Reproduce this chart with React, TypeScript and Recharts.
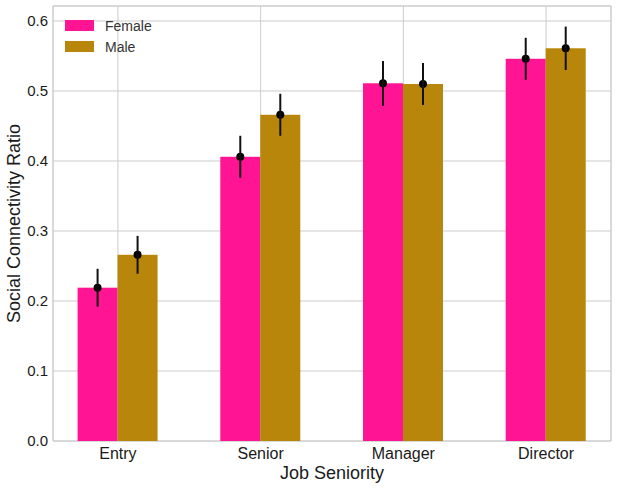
import {
  Bar,
  BarChart,
  CartesianGrid,
  ErrorBar,
  Legend,
  ReferenceArea,
  XAxis,
  YAxis,
} from "recharts";

const categories = ["Entry", "Senior", "Manager", "Director"];
const femaleValues = [0.219, 0.406, 0.511, 0.546];
const femaleErrors = [0.027, 0.03, 0.032, 0.03];
const maleValues = [0.266, 0.466, 0.51, 0.561];
const maleErrors = [0.027, 0.03, 0.03, 0.031];
const yTicks = [0, 0.1, 0.2, 0.3, 0.4, 0.5, 0.6];

const FEMALE = "#ff1493";
const MALE = "#b8860b";
const FONT = "Liberation Sans, Arial, sans-serif";

const data = categories.map((name, i) => ({
  pos: i,
  name,
  female: femaleValues[i],
  femaleErr: femaleErrors[i],
  male: maleValues[i],
  maleErr: maleErrors[i],
}));

function BarWithDot(props: any) {
  const { x, y, width, height, fill } = props;
  return (
    <g>
      <rect x={x} y={y} width={width} height={height} fill={fill} />
      <circle cx={x + width / 2} cy={y} r={4} fill="#000" />
    </g>
  );
}

function LegendBox() {
  const items = [
    { label: "Female", color: FEMALE },
    { label: "Male", color: MALE },
  ];
  return (
    <div
      style={{
        fontFamily: FONT,
        fontSize: 14,
        color: "#333",
        whiteSpace: "nowrap",
        width: 120,
      }}
    >
      {items.map((it) => (
        <div
          key={it.label}
          style={{ display: "flex", alignItems: "center", height: 21 }}
        >
          <span
            style={{
              display: "inline-block",
              flexShrink: 0,
              width: 29,
              height: 11,
              background: it.color,
              marginRight: 11,
            }}
          />
          {it.label}
        </div>
      ))}
    </div>
  );
}

export default function App() {
  return (
    <div style={{ position: "fixed", left: 0, top: 0, background: "#fff" }}>
      <BarChart
        width={618}
        height={488}
        data={data}
        barGap={0}
        margin={{ top: 6, right: 7, left: 0, bottom: 0 }}
      >
        <CartesianGrid stroke="#cccccc" strokeWidth={1} />
        <XAxis
          dataKey="pos"
          type="number"
          domain={[-0.455, 3.455]}
          ticks={[0, 1, 2, 3]}
          tickFormatter={(v: number) => categories[v] ?? ""}
          axisLine={false}
          tickLine={false}
          height={47}
          tick={{ fontSize: 16, fill: "#1a1a1a", fontFamily: FONT }}
          tickMargin={1}
          label={{
            value: "Job Seniority",
            position: "insideBottom",
            offset: 9,
            style: { fontSize: 18, fill: "#1a1a1a", fontFamily: FONT },
          }}
        />
        <YAxis
          type="number"
          domain={[0, 0.6214]}
          ticks={yTicks}
          tickFormatter={(v: number) => v.toFixed(1)}
          axisLine={false}
          tickLine={false}
          width={53}
          tickSize={3}
          tickMargin={2}
          tick={{ fontSize: 15, fill: "#1a1a1a", fontFamily: FONT }}
          label={{
            value: "Social Connectivity Ratio",
            angle: -90,
            position: "insideLeft",
            offset: 14,
            style: {
              fontSize: 18,
              fill: "#1a1a1a",
              fontFamily: FONT,
              textAnchor: "middle",
            },
          }}
        />
        <ReferenceArea
          x1={-0.455}
          x2={3.455}
          y1={0}
          y2={0.6214}
          fill="none"
          stroke="#cccccc"
          strokeWidth={1}
          ifOverflow="visible"
        />
        <Legend
          content={<LegendBox />}
          verticalAlign="top"
          align="left"
          wrapperStyle={{
            top: 15,
            left: 65,
            width: 0,
            height: 0,
            overflow: "visible",
          }}
        />
        <Bar
          dataKey="female"
          fill={FEMALE}
          barSize={40}
          shape={<BarWithDot />}
          isAnimationActive={false}
        >
          <ErrorBar
            dataKey="femaleErr"
            width={0}
            strokeWidth={2}
            stroke="#111"
            direction="y"
          />
        </Bar>
        <Bar
          dataKey="male"
          fill={MALE}
          barSize={40}
          shape={<BarWithDot />}
          isAnimationActive={false}
        >
          <ErrorBar
            dataKey="maleErr"
            width={0}
            strokeWidth={2}
            stroke="#111"
            direction="y"
          />
        </Bar>
      </BarChart>
    </div>
  );
}
